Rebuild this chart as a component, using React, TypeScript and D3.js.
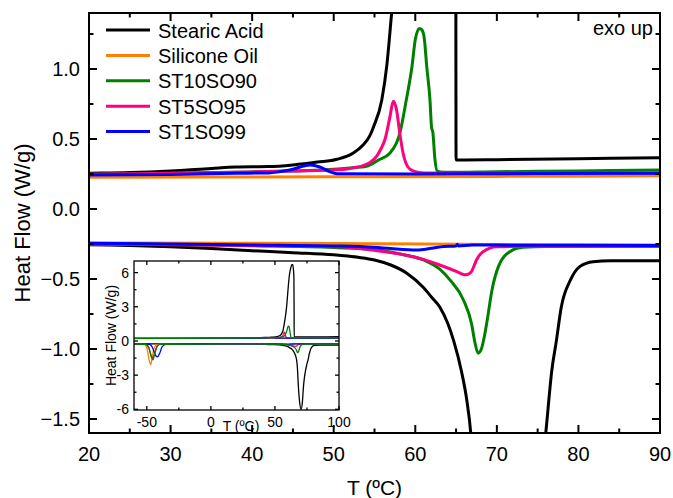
import React from "react";
import * as d3 from "d3";

type Pt = [number, number];

// T (°C), heat flow (W/g). Upper branch = cooling (exo up), lower = heating.
const stearicCool: Pt[] = [
  [-60, 0.22], [0, 0.24], [20, 0.255], [25, 0.26], [30, 0.272], [35, 0.29], [38, 0.3],
  [42, 0.303], [45, 0.315], [48, 0.335], [50.4, 0.355], [52.4, 0.4], [53.6, 0.457],
  [54.4, 0.52], [54.9, 0.59], [55.9, 0.78], [56.5, 1.02], [57.1, 1.4], [58, 2.0],
  [59.2, 3.1], [60.2, 4.5], [61.2, 5.7], [62.3, 6.4], [63.2, 6.7], [63.8, 6.7],
  [64.4, 6.3], [64.8, 5.6], [64.95, 3.0], [65.0, 0.35], [66, 0.35], [70, 0.352],
  [80, 0.359], [90, 0.366], [100, 0.37],
];
const siliconeCool: Pt[] = [
  [-60, 0.21], [20, 0.226], [50, 0.23], [70, 0.233], [90, 0.237], [100, 0.238],
];
const st10Cool: Pt[] = [
  [-60, 0.23], [20, 0.248], [30, 0.255], [40, 0.265], [45, 0.272], [49, 0.28], [52, 0.293],
  [54, 0.305], [55.5, 0.35], [56.9, 0.4], [58.1, 0.54], [58.9, 0.78], [59.6, 1.02],
  [60.0, 1.21], [60.5, 1.29], [60.8, 1.28], [61.1, 1.22], [61.4, 1.02], [61.8, 0.78],
  [62.0, 0.58], [62.15, 0.55], [62.4, 0.36], [62.7, 0.27], [63.5, 0.262], [70, 0.266],
  [80, 0.272], [90, 0.278], [100, 0.28],
];
const st5Cool: Pt[] = [
  [-60, 0.23], [20, 0.248], [30, 0.255], [40, 0.265], [45, 0.272], [50.4, 0.28], [52, 0.29],
  [53.6, 0.31], [54.4, 0.33], [55.3, 0.38], [55.7, 0.42], [56.3, 0.5], [56.9, 0.66],
  [57.3, 0.77], [57.7, 0.71], [58.1, 0.54], [58.5, 0.4], [59.1, 0.3], [59.8, 0.27],
  [61, 0.258], [70, 0.255], [90, 0.258], [100, 0.258],
];
const st1Cool: Pt[] = [
  [-60, 0.23], [20, 0.243], [30, 0.246], [38, 0.255], [42, 0.258], [44.6, 0.279],
  [47.1, 0.314], [48.3, 0.3], [49.5, 0.267], [50.4, 0.252], [60, 0.25], [70, 0.252],
  [90, 0.255], [100, 0.255],
];

const stearicHeat: Pt[] = [
  [-60, -0.25], [0, -0.252], [20, -0.255], [25, -0.26], [30, -0.27], [35, -0.283],
  [40, -0.298], [45, -0.312], [50, -0.327], [53, -0.345], [55, -0.364], [57, -0.4],
  [59, -0.46], [61, -0.56], [62, -0.63], [63, -0.7], [64, -0.82], [64.7, -0.94],
  [65.7, -1.17], [66.3, -1.36], [66.8, -1.6], [67.5, -2.3], [68.3, -4.0], [69.3, -5.4],
  [70.4, -6.0], [71.4, -5.4], [72.2, -4.1], [74.8, -2.1], [76, -1.6], [76.3, -1.41],
  [76.7, -1.17], [77.3, -0.94], [77.9, -0.7], [79, -0.51], [80.2, -0.41], [81.8, -0.376],
  [84, -0.37], [90, -0.369], [100, -0.369],
];
const siliconeHeat: Pt[] = [
  [-60, -0.28], [-52, -0.29], [-50, -0.6], [-48.5, -1.5], [-47, -2.07], [-46, -1.6],
  [-44.5, -0.7], [-42.5, -0.35], [-40, -0.3], [0, -0.26], [20, -0.243], [50, -0.247],
  [70, -0.253], [90, -0.258], [100, -0.258],
];
const st10Heat: Pt[] = [
  [-60, -0.28], [-51, -0.29], [-48.5, -0.6], [-46.5, -1.4], [-45.2, -1.65], [-44, -1.2],
  [-42, -0.5], [-40, -0.3], [0, -0.27], [20, -0.25], [40, -0.262], [50, -0.275],
  [54.9, -0.29], [58, -0.32], [61, -0.364], [63, -0.43], [64.3, -0.51], [65.9, -0.65],
  [66.9, -0.82], [67.3, -0.95], [67.7, -1.03], [68.1, -1.0], [68.5, -0.9], [68.8, -0.8],
  [69.4, -0.58], [70.2, -0.41], [71.6, -0.305], [73.2, -0.274], [76, -0.267],
  [90, -0.266], [100, -0.266],
];
const st5Heat: Pt[] = [
  [-60, -0.28], [-51, -0.29], [-48.5, -0.55], [-46.5, -1.3], [-45.4, -1.5], [-44, -1.1],
  [-42, -0.45], [-40, -0.3], [0, -0.265], [20, -0.25], [40, -0.26], [50.8, -0.27],
  [55, -0.295], [58.9, -0.33], [61, -0.36], [63, -0.4], [65.1, -0.448], [65.8, -0.466],
  [66.2, -0.47], [66.6, -0.463], [66.9, -0.445], [67.5, -0.364], [68.3, -0.305],
  [70, -0.27], [75, -0.266], [90, -0.268], [100, -0.268],
];
const st1Heat: Pt[] = [
  [-60, -0.28], [-48, -0.29], [-45.5, -0.6], [-43.5, -1.2], [-41.8, -1.4], [-40, -1.1],
  [-38, -0.5], [-35, -0.3], [0, -0.26], [20, -0.245], [30, -0.25], [40, -0.257],
  [50, -0.264], [55, -0.274], [57, -0.283], [60.2, -0.293], [62, -0.28], [63.5, -0.268],
  [65, -0.264], [65.15, -0.252], [65.3, -0.264], [67, -0.258], [70, -0.258],
  [90, -0.261], [100, -0.261],
];

const seriesNames = ["Stearic Acid", "Silicone Oil", "ST10SO90", "ST5SO95", "ST1SO99"];
const seriesCool = [stearicCool, siliconeCool, st10Cool, st5Cool, st1Cool];
const seriesHeat = [stearicHeat, siliconeHeat, st10Heat, st5Heat, st1Heat];
const colors = ["#000000", "#ff8000", "#008000", "#ff0080", "#0000ff"];

const xTicks = [20, 30, 40, 50, 60, 70, 80, 90];
const yTicks = [-1.5, -1.0, -0.5, 0.0, 0.5, 1.0];
const insetXTicks = [-50, 0, 50, 100];
const insetYTicks = [-6, -3, 0, 3, 6];

const W = 673;
const H = 498;
const font = "'Liberation Sans', Arial, sans-serif";

const m = { left: 89, right: 660, top: 13, bottom: 433 };
const ins = { left: 134, right: 339, top: 261, bottom: 410 };

const x = d3.scaleLinear().domain([20, 90]).range([m.left, m.right]);
const y = d3.scaleLinear().domain([-1.6, 1.4]).range([m.bottom, m.top]);
const ix = d3.scaleLinear().domain([-60, 100]).range([ins.left, ins.right]);
const iy = d3.scaleLinear().domain([-6.06, 7.02]).range([ins.bottom, ins.top]);

const mainLine = d3.line<Pt>().x((d) => x(d[0])).y((d) => y(d[1])).curve(d3.curveMonotoneX);
const insetLine = d3.line<Pt>().x((d) => ix(d[0])).y((d) => iy(d[1])).curve(d3.curveMonotoneX);

function Frame({ sx, sy, xt, xm, yt, ym, major, minor, sw }: any) {
  const [x0, x1] = sx.range();
  const [y0, y1] = sy.range(); // y0 bottom, y1 top
  const out: JSX.Element[] = [];
  xt.forEach((v: number, i: number) => {
    const px = sx(v);
    out.push(<line key={"xb" + i} x1={px} x2={px} y1={y0} y2={y0 - major} />);
    out.push(<line key={"xt" + i} x1={px} x2={px} y1={y1} y2={y1 + major} />);
  });
  xm.forEach((v: number, i: number) => {
    const px = sx(v);
    out.push(<line key={"xmb" + i} x1={px} x2={px} y1={y0} y2={y0 - minor} />);
    out.push(<line key={"xmt" + i} x1={px} x2={px} y1={y1} y2={y1 + minor} />);
  });
  yt.forEach((v: number, i: number) => {
    const py = sy(v);
    out.push(<line key={"yl" + i} x1={x0} x2={x0 + major} y1={py} y2={py} />);
    out.push(<line key={"yr" + i} x1={x1} x2={x1 - major} y1={py} y2={py} />);
  });
  ym.forEach((v: number, i: number) => {
    const py = sy(v);
    out.push(<line key={"yml" + i} x1={x0} x2={x0 + minor} y1={py} y2={py} />);
    out.push(<line key={"ymr" + i} x1={x1} x2={x1 - minor} y1={py} y2={py} />);
  });
  return (
    <g stroke="#000" strokeWidth={sw} fill="none">
      {out}
      <rect x={x0} y={y1} width={x1 - x0} height={y0 - y1} />
    </g>
  );
}

export default function App() {
  const xMinor = d3.range(25, 90, 10);
  const yMinor = d3.range(-1.25, 1.4, 0.5);
  const ixMinor = [-25, 25, 75];
  const iyMinor = [-4.5, -1.5, 1.5, 4.5];
  const order = [0, 1, 2, 3, 4];
  const insetOrder = [0, 1, 3, 4, 2];

  return (
    <svg
      width={W}
      height={H}
      style={{ position: "absolute", left: 0, top: 0, background: "#fff" }}
      fontFamily={font}
    >
      <defs>
        <clipPath id="mainClip">
          <rect x={m.left} y={m.top} width={m.right - m.left} height={m.bottom - m.top} />
        </clipPath>
        <clipPath id="insetClip">
          <rect x={ins.left} y={ins.top} width={ins.right - ins.left} height={ins.bottom - ins.top} />
        </clipPath>
      </defs>

      <g clipPath="url(#mainClip)" fill="none" strokeWidth={3} strokeLinejoin="round">
        {order.map((i) => (
          <g key={i} stroke={colors[i]}>
            <path d={mainLine(seriesCool[i]) || ""} />
            <path d={mainLine(seriesHeat[i]) || ""} />
          </g>
        ))}
      </g>

      {/* legend */}
      {seriesNames.map((n, i) => {
        const ly = 30 + i * 25.4;
        return (
          <g key={n}>
            <line x1={106} x2={150} y1={ly} y2={ly} stroke={colors[i]} strokeWidth={3} />
            <text x={158} y={ly + 7.5} fontSize={20} fill="#000">
              {n}
            </text>
          </g>
        );
      })}
      <text x={653} y={35} fontSize={20} textAnchor="end" fill="#000">
        exo up
      </text>

      {/* inset */}
      <rect x={ins.left} y={ins.top} width={ins.right - ins.left} height={ins.bottom - ins.top} fill="#fff" />
      <g clipPath="url(#insetClip)" fill="none" strokeWidth={1.3} strokeLinejoin="round">
        {insetOrder.map((i) => (
          <g key={i} stroke={colors[i]}>
            <path d={insetLine(seriesCool[i]) || ""} />
            <path d={insetLine(seriesHeat[i]) || ""} />
          </g>
        ))}
      </g>
      <Frame sx={ix} sy={iy} xt={insetXTicks} xm={ixMinor} yt={insetYTicks} ym={iyMinor} major={4} minor={2.5} sw={1.3} />
      {insetYTicks.map((v) => (
        <text key={v} x={ins.left - 5} y={iy(v)} dy="0.35em" fontSize={14} textAnchor="end">
          {v}
        </text>
      ))}
      {insetXTicks.map((v) => (
        <text key={v} x={ix(v)} y={426.5} fontSize={14} textAnchor="middle">
          {v}
        </text>
      ))}
      <text x={241} y={431} fontSize={14} textAnchor="middle">
        T (ºC)
      </text>
      <text
        transform={`translate(115.5,${(ins.top + ins.bottom) / 2}) rotate(-90)`}
        fontSize={14}
        textAnchor="middle"
      >
        Heat Flow (W/g)
      </text>

      {/* main axes */}
      <Frame sx={x} sy={y} xt={xTicks} xm={xMinor} yt={yTicks} ym={yMinor} major={8} minor={4.5} sw={2} />
      {xTicks.map((v) => (
        <text key={v} x={x(v)} y={461} fontSize={20} textAnchor="middle">
          {v}
        </text>
      ))}
      {yTicks.map((v) => (
        <text key={v} x={80} y={y(v)} dy="0.35em" fontSize={20} textAnchor="end">
          {d3.format(".1f")(v)}
        </text>
      ))}
      <text x={(m.left + m.right) / 2} y={495} fontSize={21} textAnchor="middle">
        T (ºC)
      </text>
      <text transform={`translate(30,${(m.top + m.bottom) / 2}) rotate(-90)`} fontSize={22} textAnchor="middle">
        Heat Flow (W/g)
      </text>
    </svg>
  );
}
